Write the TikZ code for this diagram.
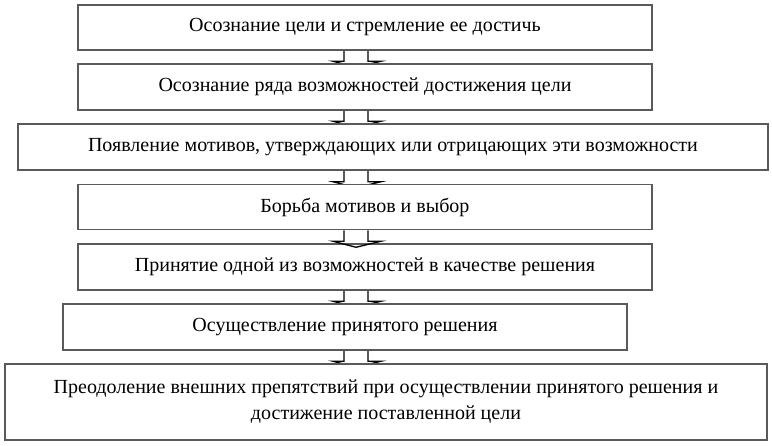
\documentclass[tikz,border=0pt]{standalone}
\usepackage{fontspec}
\setmainfont{Liberation Serif}
\usetikzlibrary{calc,backgrounds}
\definecolor{boxgray}{HTML}{5A5A5A}
\newcommand\blockarr[2]{%
  \draw[arr] ($(ax |- #1.south)+(-12,0)$) -- ($(ax |- #2.north)+(-12,-2)$)
    -- ($(ax |- #2.north)+(-23,-2)$) -- ($(ax |- #2.north)+(0,4)$)
    -- ($(ax |- #2.north)+(25,-2)$) -- ($(ax |- #2.north)+(12,-2)$)
    -- ($(ax |- #1.south)+(12,0)$);}
\begin{document}
\begin{tikzpicture}[x=1pt,y=-1pt,
  box/.style={draw=boxgray, line width=1.5pt, fill=white, inner sep=0pt,
    font=\fontsize{20}{26}\selectfont, align=center},
  arr/.style={draw=black, line width=1.3pt}]
\useasboundingbox (0,0) rectangle (772,445);
\coordinate (ax) at (356,0);
\node[box, minimum width=574, minimum height=45] (b1) at (365,27.5) {Осознание цели и стремление ее достичь};
\node[box, minimum width=574, minimum height=46] (b2) at (365,87) {Осознание ряда возможностей достижения цели};
\node[box, minimum width=750, minimum height=46] (b3) at (393,147) {Появление мотивов, утверждающих или отрицающих эти возможности};
\node[box, minimum width=574, minimum height=45] (b4) at (365,207) {Борьба мотивов и выбор};
\node[box, minimum width=574, minimum height=46] (b5) at (365,267) {Принятие одной из возможностей в качестве решения};
\node[box, minimum width=564, minimum height=46] (b6) at (345,327) {Осуществление принятого решения};
\node[box, minimum width=762, minimum height=76] (b7) at (386,402) {Преодоление внешних препятствий при осуществлении принятого решения и\\достижение поставленной цели};
\begin{scope}[on background layer]
  \blockarr{b1}{b2}
  \blockarr{b2}{b3}
  \blockarr{b3}{b4}
  \blockarr{b5}{b6}
  \blockarr{b6}{b7}
\end{scope}
\blockarr{b4}{b5}
\end{tikzpicture}
\end{document}
